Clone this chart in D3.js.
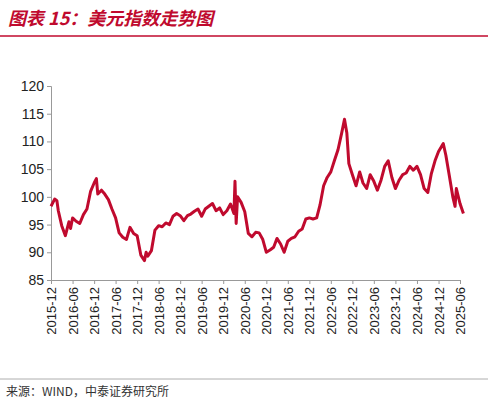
<!DOCTYPE html>
<html><head><meta charset="utf-8">
<script src="https://cdn.jsdelivr.net/npm/d3@7"></script>
<style>body{margin:0;background:#fff;font-family:"Liberation Sans",Arial,sans-serif}</style>
</head><body><svg id="c" width="488" height="404"></svg>
<script>
const dates=["2015-12-01","2016-01-01","2016-01-20","2016-02-01","2016-03-01","2016-04-01","2016-05-01","2016-05-15","2016-06-01","2016-07-01","2016-08-01","2016-09-01","2016-10-01","2016-11-01","2016-12-01","2016-12-20","2017-01-01","2017-02-01","2017-03-01","2017-04-01","2017-05-01","2017-06-01","2017-07-01","2017-08-01","2017-09-01","2017-10-01","2017-11-01","2017-12-01","2018-01-01","2018-02-01","2018-02-15","2018-03-01","2018-04-01","2018-05-01","2018-06-01","2018-07-01","2018-08-01","2018-09-01","2018-10-01","2018-11-01","2018-12-01","2019-01-01","2019-02-01","2019-03-01","2019-04-01","2019-05-01","2019-06-01","2019-07-01","2019-08-01","2019-09-01","2019-10-01","2019-11-01","2019-12-01","2020-01-01","2020-02-01","2020-03-01","2020-03-10","2020-03-20","2020-04-01","2020-05-01","2020-06-01","2020-07-01","2020-08-01","2020-09-01","2020-10-01","2020-11-01","2020-12-01","2021-01-01","2021-02-01","2021-03-01","2021-04-01","2021-05-01","2021-06-01","2021-07-01","2021-08-01","2021-09-01","2021-10-01","2021-11-01","2021-12-01","2022-01-01","2022-02-01","2022-03-01","2022-04-01","2022-05-01","2022-06-01","2022-07-01","2022-08-01","2022-09-01","2022-09-25","2022-10-15","2022-11-01","2022-12-01","2023-01-01","2023-02-01","2023-03-01","2023-04-01","2023-05-01","2023-06-01","2023-07-01","2023-08-01","2023-09-01","2023-10-01","2023-11-01","2023-12-01","2024-01-01","2024-02-01","2024-03-01","2024-04-01","2024-05-01","2024-06-01","2024-07-01","2024-08-01","2024-09-01","2024-10-01","2024-11-01","2024-12-01","2025-01-10","2025-02-01","2025-03-01","2025-04-01","2025-04-20","2025-05-01","2025-06-01","2025-06-30"];
const values=[98.3,99.6,99.3,97.5,94.8,93.0,95.5,94.3,96.2,95.6,95.2,96.8,97.8,101.0,102.5,103.3,100.5,101.2,100.5,99.5,97.8,96.2,93.5,92.7,92.3,94.5,93.4,93.0,89.5,88.5,90.0,89.3,90.3,94.0,94.8,94.6,95.3,95.0,96.5,97.0,96.6,95.7,96.6,96.9,97.4,97.8,96.5,97.8,98.3,98.8,97.5,98.0,96.8,97.5,98.7,97.0,102.8,95.2,100.0,99.0,97.3,93.4,92.8,93.6,93.5,92.3,90.0,90.4,90.9,92.5,91.5,90.0,92.0,92.5,92.8,93.8,94.2,96.0,96.2,96.0,96.2,98.5,102.0,103.5,104.5,106.5,108.5,111.5,114.0,111.5,106.0,104.0,102.0,104.5,102.5,101.5,104.0,102.8,101.2,103.0,105.5,106.5,103.5,101.5,103.0,104.0,104.3,105.5,104.8,105.5,104.0,101.5,100.8,104.2,106.5,108.2,109.6,107.5,104.0,100.0,98.3,101.5,98.8,97.0];
const tickLabels=["2015-12","2016-06","2016-12","2017-06","2017-12","2018-06","2018-12","2019-06","2019-12","2020-06","2020-12","2021-06","2021-12","2022-06","2022-12","2023-06","2023-12","2024-06","2024-12","2025-06"];
const yTicks=[85,90,95,100,105,110,115,120];

const svg=d3.select("#c");
const red="#c00a2e";
const p=d3.timeParse("%Y-%m-%d");
const data=dates.map((d,i)=>({d:p(d),v:values[i]}));
const tp=d3.timeParse("%Y-%m");
const x=d3.scaleTime().domain([tp(tickLabels[0]),tp(tickLabels[tickLabels.length-1])]).range([51,460]);
const y=d3.scaleLinear().domain([85,120]).range([280,86]);

svg.append("text").attr("x",8).attr("y",25).attr("fill",red).attr("font-size",18).attr("font-weight","bold").attr("font-style","italic").attr("font-family","'Noto Sans CJK SC',sans-serif").text("图表 15：美元指数走势图");
svg.append("line").attr("x1",0).attr("x2",488).attr("y1",36).attr("y2",36).attr("stroke",red).attr("stroke-width",1.5);

const ya=svg.append("g").attr("transform","translate(51,0)").call(d3.axisLeft(y).tickValues(yTicks).tickSize(4).tickPadding(3));
const xa=svg.append("g").attr("transform","translate(0,280)").call(d3.axisBottom(x).tickValues(tickLabels.map(tp)).tickFormat(d3.timeFormat("%Y-%m")).tickSize(4));
[ya,xa].forEach(g=>{g.select(".domain").attr("stroke","#999");g.selectAll(".tick line").attr("stroke","#999");g.selectAll("text").attr("fill","#222").attr("font-size",14).attr("font-family","'Liberation Sans',Arial,sans-serif");});
xa.selectAll("text").attr("font-size",13).attr("transform","rotate(-90)").attr("text-anchor","end").attr("dx",0).attr("dy","0.35em").attr("y",0).attr("x",-7);

svg.append("path").datum(data).attr("fill","none").attr("stroke",red).attr("stroke-width",3).attr("stroke-linejoin","round")
 .attr("d",d3.line().x(d=>x(d.d)).y(d=>y(d.v)));

svg.append("line").attr("x1",0).attr("x2",488).attr("y1",379).attr("y2",379).attr("stroke","#999").attr("stroke-width",0.8);
svg.append("text").attr("x",6).attr("y",396).attr("font-size",12).attr("fill","#333").attr("font-family","'Noto Sans CJK SC',sans-serif").text("来源：WIND，中泰证券研究所");
</script></body></html>
